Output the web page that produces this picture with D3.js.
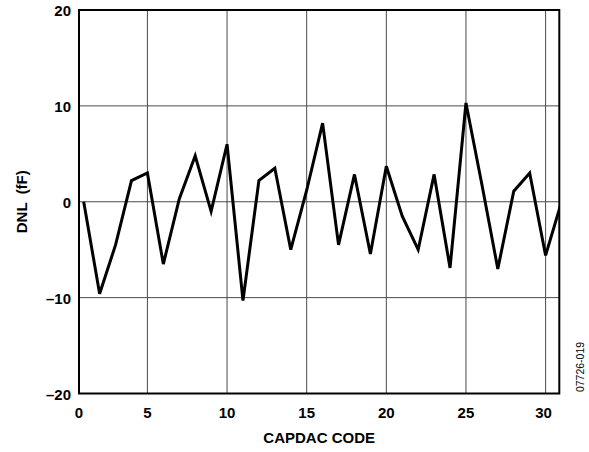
<!DOCTYPE html>
<html>
<head>
<meta charset="utf-8">
<script src="https://cdn.jsdelivr.net/npm/d3@7"></script>
<style>
  html, body { margin: 0; padding: 0; background: #fff; }
  svg { display: block; font-family: "Liberation Sans", Arial, sans-serif; }
</style>
</head>
<body>
<div id="chart"></div>
<script>
// CAPDAC DNL per code
const codes = d3.range(1, 32);
const dnl = [
  0, -9.6, -4.5, 2.2, 3.0, -6.5, 0.3, 4.8, -1.0, 6.0,
  -10.3, 2.2, 3.5, -5.0, 1.2, 8.2, -4.5, 2.85, -5.45, 3.7,
  -1.5, -5.0, 2.85, -6.9, 10.3, 1.8, -7.0, 1.1, 3.0, -5.6,
  0
];
const xTicks = [5, 10, 15, 20, 25, 30];
const yTicks = [20, 10, 0, -10, -20];
const yGrid = [10, 0, -10];

const width = 589;
const height = 452;
const margin = { top: 10, right: 30, bottom: 58.5, left: 79 };

const svg = d3.select('#chart')
  .append('svg')
  .attr('width', width)
  .attr('height', height);

const x = d3.scaleLinear()
  .domain([0.705, 30.86])
  .range([margin.left, width - margin.right + 0.3]);

const y = d3.scaleLinear()
  .domain([-20, 20])
  .range([height - margin.bottom, margin.top]);

const [x0, x1] = x.range();
const [yb, yt] = y.range();

svg.append('defs').append('clipPath')
  .attr('id', 'plot')
  .append('rect')
  .attr('x', x0).attr('y', yt)
  .attr('width', x1 - x0).attr('height', yb - yt);

// grid
svg.append('g')
  .selectAll('line')
  .data(xTicks)
  .enter()
  .append('line')
  .attr('x1', d => x(d)).attr('x2', d => x(d))
  .attr('y1', yt).attr('y2', yb)
  .attr('stroke', '#4a4a4a')
  .attr('stroke-width', 1);

svg.append('g')
  .selectAll('line')
  .data(yGrid)
  .enter()
  .append('line')
  .attr('x1', x0).attr('x2', x1)
  .attr('y1', d => y(d)).attr('y2', d => y(d))
  .attr('stroke', '#4a4a4a')
  .attr('stroke-width', 1);

// data line
const line = d3.line()
  .x((d, i) => x(codes[i]))
  .y(d => y(d));

svg.append('path')
  .datum(dnl)
  .attr('clip-path', 'url(#plot)')
  .attr('d', line)
  .attr('fill', 'none')
  .attr('stroke', '#000')
  .attr('stroke-width', 3)
  .attr('stroke-linejoin', 'miter');

// frame
svg.append('rect')
  .attr('x', x0).attr('y', yt)
  .attr('width', x1 - x0).attr('height', yb - yt)
  .attr('fill', 'none')
  .attr('stroke', '#000')
  .attr('stroke-width', 2);

// x tick labels (the "0" sits at the left edge in the original)
const xLabels = [{ v: x.domain()[0], t: '0' }].concat(xTicks.map(v => ({ v: v, t: String(v) })));
svg.append('g')
  .selectAll('text')
  .data(xLabels)
  .enter()
  .append('text')
  .attr('x', d => x(d.v) - (d.v >= 30 ? 2 : 0))
  .attr('y', yb + 24)
  .attr('text-anchor', 'middle')
  .attr('font-size', '15px')
  .attr('font-weight', 'bold')
  .text(d => d.t);

// y tick labels
svg.append('g')
  .selectAll('text')
  .data(yTicks)
  .enter()
  .append('text')
  .attr('x', x0 - 8)
  .attr('y', d => y(d) + 6)
  .attr('text-anchor', 'end')
  .attr('font-size', '15px')
  .attr('font-weight', 'bold')
  .text(d => d < 0 ? '\u2013' + Math.abs(d) : String(d));

// axis titles
svg.append('text')
  .attr('x', (x0 + x1) / 2)
  .attr('y', 442.5)
  .attr('text-anchor', 'middle')
  .attr('font-size', '15px')
  .attr('font-weight', 'bold')
  .text('CAPDAC CODE');

svg.append('text')
  .attr('transform', `translate(27, ${y(0)}) rotate(-90)`)
  .attr('text-anchor', 'middle')
  .attr('font-size', '15px')
  .attr('font-weight', 'bold')
  .attr('xml:space', 'preserve')
  .text('DNL  (fF)');

svg.append('text')
  .attr('transform', 'translate(584, 367) rotate(-90)')
  .attr('text-anchor', 'middle')
  .attr('font-size', '10.5px')
  .text('07726-019');
</script>
</body>
</html>
